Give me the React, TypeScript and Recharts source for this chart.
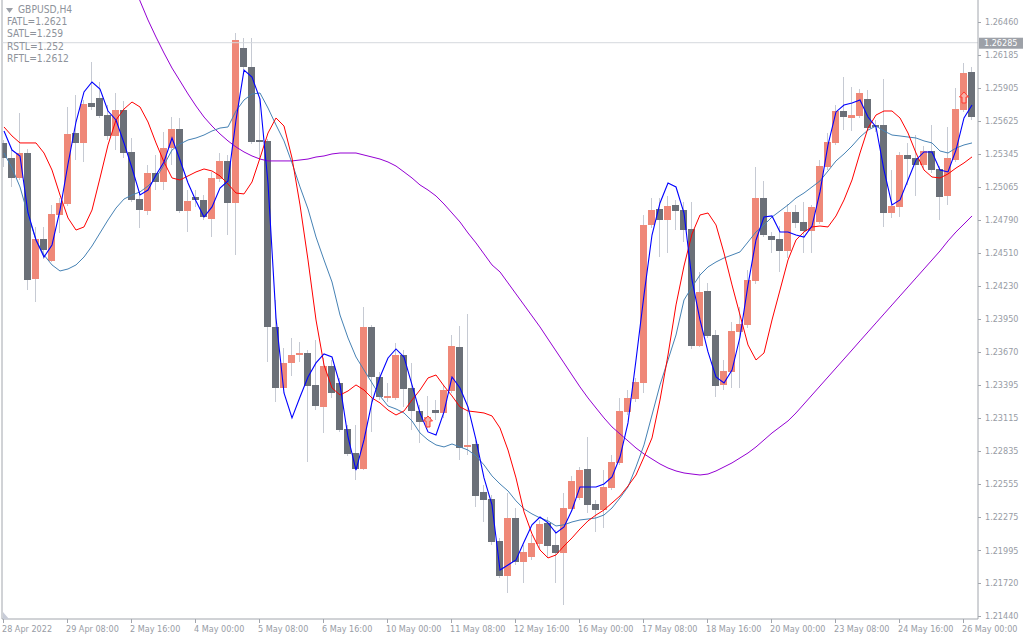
import React from 'react';
import { ComposedChart, Bar, Line, XAxis, YAxis, ReferenceLine, ReferenceDot } from 'recharts';

// GBPUSD H4 candles, 28 Apr 2022 00:00 .. 26 May 2022 04:00 (one entry per bar)
const opens = [
  1.25438, 1.25311, 1.25142, 1.25353, 1.24288, 1.24626, 1.24441, 1.24829, 1.24922, 1.25522,
  1.25438, 1.25776, 1.25818, 1.25674, 1.25497, 1.25716, 1.25362, 1.24964, 1.24863, 1.25184,
  1.25108, 1.25395, 1.25556, 1.24863, 1.24981, 1.24956, 1.24795, 1.25133, 1.25286, 1.24931,
  1.2624, 1.2608, 1.25463, 1.25455, 1.23883, 1.23367, 1.23579, 1.23646, 1.23663, 1.23393,
  1.23207, 1.23553, 1.2341, 1.23021, 1.22818, 1.22683, 1.23883, 1.2346, 1.23283, 1.23283,
  1.23646, 1.23367, 1.23173, 1.23097, 1.23181, 1.23156, 1.23342, 1.23714, 1.22869, 1.22894,
  1.22489, 1.22429, 1.22075, 1.21779, 1.22269, 1.21897, 1.21939, 1.22049, 1.22227, 1.22041,
  1.21973, 1.22345, 1.22438, 1.22683, 1.22387, 1.22336, 1.22522, 1.22734, 1.23165, 1.23274,
  1.2341, 1.24745, 1.2488, 1.24787, 1.24914, 1.24871, 1.24711, 1.23722, 1.24187, 1.23815,
  1.23393, 1.23503, 1.23841, 1.239, 1.24272, 1.24973, 1.24652, 1.24626, 1.24525, 1.24855,
  1.2477, 1.24694, 1.2477, 1.25235, 1.25438, 1.25708, 1.25649, 1.25666, 1.25809, 1.2559,
  1.2559, 1.24846, 1.24897, 1.25336, 1.25311, 1.25252, 1.2537, 1.25218, 1.2499, 1.25294,
  1.25716, 1.26038,
];
const highs = [
  1.25463, 1.25378, 1.25691, 1.25387, 1.24728, 1.24728, 1.24914, 1.24973, 1.25742, 1.25843,
  1.25801, 1.26122, 1.25953, 1.25759, 1.2586, 1.25793, 1.2548, 1.25024, 1.25252, 1.25336,
  1.25531, 1.25657, 1.25649, 1.2504, 1.2504, 1.24998, 1.25193, 1.25353, 1.25336, 1.26367,
  1.26325, 1.26325, 1.25818, 1.25471, 1.24111, 1.23705, 1.2379, 1.23756, 1.23688, 1.23773,
  1.23621, 1.23604, 1.23452, 1.23055, 1.23055, 1.24052, 1.239, 1.23503, 1.2341, 1.23748,
  1.23688, 1.23579, 1.23224, 1.233, 1.23266, 1.23393, 1.23815, 1.23891, 1.23993, 1.22928,
  1.22548, 1.22463, 1.221, 1.2248, 1.22353, 1.22041, 1.22125, 1.22252, 1.22277, 1.22167,
  1.2248, 1.22624, 1.227, 1.22953, 1.22421, 1.22674, 1.22801, 1.23283, 1.2335, 1.23452,
  1.24829, 1.24973, 1.24973, 1.2499, 1.24956, 1.24939, 1.24939, 1.24348, 1.24255, 1.23857,
  1.23604, 1.23925, 1.24052, 1.24364, 1.25235, 1.25117, 1.24686, 1.24736, 1.24922, 1.24914,
  1.24939, 1.24914, 1.25294, 1.25522, 1.25759, 1.25995, 1.25911, 1.25894, 1.25885, 1.25632,
  1.25978, 1.25209, 1.25362, 1.25438, 1.25505, 1.25412, 1.2559, 1.25243, 1.25573, 1.25902,
  1.26114, 1.2608,
];
const lows = [
  1.25235, 1.25066, 1.25125, 1.24195, 1.24094, 1.24457, 1.24432, 1.24677, 1.24905, 1.25294,
  1.25277, 1.25716, 1.25649, 1.25463, 1.25378, 1.25311, 1.24939, 1.24719, 1.24829, 1.2504,
  1.2504, 1.25252, 1.24846, 1.24686, 1.24897, 1.24787, 1.24643, 1.25108, 1.2466, 1.24491,
  1.26054, 1.25429, 1.25294, 1.23587, 1.23249, 1.2335, 1.23469, 1.23587, 1.22742, 1.23181,
  1.22987, 1.23283, 1.22996, 1.22793, 1.2259, 1.22674, 1.22996, 1.23266, 1.23249, 1.23266,
  1.23207, 1.23012, 1.22903, 1.23029, 1.23097, 1.23114, 1.23325, 1.22759, 1.22801, 1.22362,
  1.22235, 1.22041, 1.21762, 1.21635, 1.21872, 1.2172, 1.21914, 1.22015, 1.21939, 1.2172,
  1.21534, 1.2232, 1.22421, 1.22311, 1.22151, 1.22184, 1.22505, 1.22717, 1.23139, 1.23249,
  1.23325, 1.24719, 1.24474, 1.24508, 1.24702, 1.24601, 1.23697, 1.23714, 1.2379, 1.23291,
  1.2335, 1.23367, 1.23367, 1.23874, 1.24246, 1.24643, 1.24508, 1.24348, 1.24466, 1.24719,
  1.24508, 1.24508, 1.24753, 1.25209, 1.25421, 1.25547, 1.25539, 1.25649, 1.25547, 1.25531,
  1.24728, 1.24804, 1.24812, 1.25083, 1.2499, 1.25226, 1.25184, 1.24787, 1.24914, 1.25277,
  1.257, 1.25632,
];
const closes = [
  1.25311, 1.25142, 1.25353, 1.2428, 1.24626, 1.24533, 1.24838, 1.24931, 1.25514, 1.25438,
  1.25767, 1.25742, 1.25666, 1.25497, 1.25716, 1.25353, 1.24956, 1.24871, 1.25184, 1.25108,
  1.25395, 1.25556, 1.24863, 1.24948, 1.24956, 1.24812, 1.25142, 1.25286, 1.24931, 1.26308,
  1.2608, 1.25446, 1.25446, 1.23883, 1.23367, 1.23579, 1.23646, 1.23663, 1.23384, 1.23215,
  1.23553, 1.23325, 1.23012, 1.2281, 1.22683, 1.23883, 1.2346, 1.23291, 1.233, 1.23646,
  1.23359, 1.23173, 1.2308, 1.23122, 1.23156, 1.2335, 1.23722, 1.2286, 1.22886, 1.22455,
  1.22421, 1.22066, 1.21779, 1.22269, 1.21897, 1.21982, 1.22058, 1.22218, 1.22032, 1.21973,
  1.22353, 1.22582, 1.22674, 1.22379, 1.22336, 1.22531, 1.22742, 1.23173, 1.23283, 1.23418,
  1.24745, 1.24871, 1.24787, 1.24905, 1.24863, 1.24702, 1.23722, 1.24179, 1.23807, 1.23384,
  1.23511, 1.23849, 1.23908, 1.2428, 1.24973, 1.2466, 1.24618, 1.24525, 1.24855, 1.24762,
  1.24694, 1.24897, 1.25243, 1.25446, 1.25708, 1.25657, 1.25674, 1.2586, 1.25564, 1.25573,
  1.24846, 1.24905, 1.25336, 1.25302, 1.25252, 1.2537, 1.25209, 1.24981, 1.25311, 1.25725,
  1.26029, 1.25657,
];

// indicator lines
const fatl = [
  1.25539, 1.25378, 1.25328, 1.24846, 1.24618, 1.24474, 1.24576, 1.24871, 1.2526, 1.25615,
  1.25869, 1.25953, 1.25894, 1.25708, 1.25632, 1.25438, 1.25226, 1.24998, 1.2504, 1.25167,
  1.25277, 1.2548, 1.25294, 1.251, 1.24948, 1.24812, 1.24897, 1.25057, 1.25117, 1.25632,
  1.26054, 1.25995, 1.25809, 1.251, 1.23959, 1.23325, 1.23114, 1.23291, 1.2346, 1.23579,
  1.23655, 1.23629, 1.23393, 1.22953, 1.22674, 1.22928, 1.23249, 1.2346, 1.23621, 1.23697,
  1.23629, 1.23393, 1.23156, 1.22996, 1.2297, 1.23165, 1.2346, 1.23367, 1.23207, 1.22928,
  1.22607, 1.22379, 1.21829, 1.21872, 1.21914, 1.22066, 1.22211, 1.22277, 1.22227, 1.22142,
  1.22193, 1.22336, 1.22531, 1.22531, 1.22531, 1.22556, 1.22615, 1.22784, 1.23072, 1.23604,
  1.24153, 1.2466, 1.24931, 1.251, 1.25066, 1.24846, 1.2428, 1.23942, 1.23672, 1.2346,
  1.2341, 1.23519, 1.23798, 1.24238, 1.24618, 1.24812, 1.24821, 1.24686, 1.24686, 1.2466,
  1.24643, 1.24736, 1.25024, 1.25421, 1.257, 1.25759, 1.25776, 1.25801, 1.25657, 1.25573,
  1.25209, 1.24914, 1.24956, 1.25125, 1.25294, 1.25362, 1.25362, 1.25209, 1.25193, 1.25378,
  1.25649, 1.25759,
];
const satl = [
  1.25353, 1.25226, 1.25066, 1.24829, 1.24618, 1.24491, 1.24407, 1.24356, 1.24373, 1.24407,
  1.24474, 1.24567, 1.24677, 1.24787, 1.24888, 1.24964, 1.24998, 1.25024, 1.25074, 1.25142,
  1.25252, 1.25378, 1.25429, 1.25463, 1.2548, 1.25505, 1.25539, 1.25564, 1.25573, 1.25708,
  1.25801, 1.25852, 1.2586, 1.25733, 1.2559, 1.25455, 1.25269, 1.25066, 1.2488, 1.24643,
  1.24449, 1.24263, 1.23984, 1.2379, 1.23629, 1.23519, 1.2341, 1.233, 1.23215, 1.2319,
  1.23156, 1.23089, 1.22987, 1.22928, 1.22886, 1.22869, 1.22894, 1.22869, 1.22843, 1.22793,
  1.22717, 1.22624, 1.22556, 1.22497, 1.22413, 1.22345, 1.22303, 1.22269, 1.22244, 1.22201,
  1.22211, 1.22235, 1.22252, 1.2226, 1.22269, 1.22294, 1.22353, 1.22438, 1.22531, 1.227,
  1.22886, 1.23139, 1.23393, 1.23604, 1.23815, 1.24111, 1.24221, 1.24322, 1.2439, 1.24432,
  1.24466, 1.24491, 1.24517, 1.24601, 1.24686, 1.24745, 1.24812, 1.24863, 1.24914, 1.24973,
  1.25015, 1.25066, 1.25117, 1.25201, 1.25286, 1.25345, 1.25412, 1.25488, 1.25547, 1.25581,
  1.25539, 1.25505, 1.25497, 1.25488, 1.2548, 1.25455, 1.25438, 1.2537, 1.25353, 1.25395,
  1.25421, 1.25438,
];
const rstl = [
  null, null, null, null, null, null, null, null, null, null,
  1.27914, 1.27745, 1.27559, 1.27364, 1.2717, 1.26984, 1.26807, 1.26638, 1.26477, 1.26333,
  1.26198, 1.26071, 1.25962, 1.25852, 1.2575, 1.25657, 1.25581, 1.25514, 1.25455, 1.25404,
  1.25362, 1.25328, 1.25302, 1.25286, 1.25286, 1.25286, 1.25286, 1.25294, 1.25302, 1.25319,
  1.25328, 1.25345, 1.25353, 1.25353, 1.25353, 1.25336, 1.25319, 1.25302, 1.25277, 1.25243,
  1.25193, 1.25142, 1.25083, 1.2504, 1.2499, 1.24922, 1.24846, 1.2477, 1.24677, 1.24593,
  1.245, 1.24407, 1.24348, 1.24255, 1.24162, 1.24069, 1.23976, 1.23883, 1.23781, 1.2368,
  1.23579, 1.23477, 1.23376, 1.23283, 1.23198, 1.23114, 1.23038, 1.22979, 1.2292, 1.2286,
  1.2281, 1.22767, 1.22725, 1.22691, 1.22666, 1.22649, 1.2264, 1.22632, 1.2264, 1.22666,
  1.227, 1.22734, 1.22776, 1.22818, 1.22869, 1.22928, 1.22987, 1.23038, 1.23089, 1.23156,
  1.23232, 1.23308, 1.23384, 1.2346, 1.23536, 1.23612, 1.23688, 1.23765, 1.23841, 1.23917,
  1.23993, 1.24069, 1.24145, 1.24221, 1.24297, 1.24373, 1.24449, 1.24525, 1.2461, 1.24686,
  1.24753, 1.24821,
];
const rftl = [
  1.25573, 1.25497, 1.25438, 1.25438, 1.25438, 1.25353, 1.25209, 1.24998, 1.24804, 1.24702,
  1.24728, 1.24871, 1.25142, 1.25421, 1.25632, 1.25725, 1.25784, 1.25742, 1.25615, 1.25438,
  1.25277, 1.25142, 1.25125, 1.25159, 1.25193, 1.25218, 1.25201, 1.25159, 1.25091, 1.25015,
  1.25007, 1.25108, 1.25311, 1.25522, 1.25649, 1.25581, 1.25311, 1.24914, 1.24449, 1.23942,
  1.23562, 1.23367, 1.23308, 1.23342, 1.23393, 1.2335, 1.23283, 1.23241, 1.23181, 1.23139,
  1.23173, 1.23266, 1.2335, 1.23452, 1.23477, 1.23384, 1.233, 1.23207, 1.23173, 1.23165,
  1.23156, 1.23131, 1.23029, 1.22843, 1.22607, 1.2232, 1.22134, 1.21998, 1.21931, 1.21956,
  1.22032, 1.221, 1.22176, 1.22244, 1.22294, 1.22336, 1.22396, 1.22455, 1.22539, 1.22632,
  1.22784, 1.22945, 1.23266, 1.23646, 1.24069, 1.24398, 1.24669, 1.24829, 1.24846, 1.24745,
  1.24508, 1.24238, 1.23984, 1.23731, 1.23604, 1.23663, 1.23942, 1.24195, 1.24449, 1.24618,
  1.24686, 1.24728, 1.24736, 1.24728, 1.24821, 1.24956, 1.25125, 1.25353, 1.25564, 1.25674,
  1.25708, 1.25708, 1.25649, 1.25522, 1.25353, 1.25209, 1.2515, 1.25142, 1.25176, 1.25226,
  1.25269, 1.2532,
];

const xTickIndex = [0, 8, 16, 24, 32, 40, 48, 56, 64, 72, 80, 88, 96, 104, 112, 120];
const xTickLabels = [
  '28 Apr 2022', '29 Apr 08:00', '2 May 16:00', '4 May 00:00', '5 May 08:00', '6 May 16:00',
  '10 May 00:00', '11 May 08:00', '12 May 16:00', '16 May 00:00', '17 May 08:00', '18 May 16:00',
  '20 May 00:00', '23 May 08:00', '24 May 16:00', '26 May 00:00',
];
const priceTicks = [
  1.2646, 1.26185, 1.25905, 1.25625, 1.25345, 1.25065, 1.2479, 1.2451, 1.2423, 1.2395,
  1.2367, 1.23395, 1.23115, 1.22835, 1.22555, 1.22275, 1.21995, 1.2172, 1.2144,
];
const lastPrice = 1.26285;
const legendLines = ['FATL=1.2621', 'SATL=1.259', 'RSTL=1.252', 'RFTL=1.2612'];
const signals = [
  { i: 53, price: 1.2308 },
  { i: 120, price: 1.25818 },
];

const rows = opens.map((o, i) => ({
  i,
  open: o,
  high: highs[i],
  low: lows[i],
  close: closes[i],
  range: [lows[i], highs[i]],
  fatl: fatl[i],
  satl: satl[i],
  rstl: rstl[i],
  rftl: rftl[i],
}));

const FONT = '"DejaVu Sans Condensed", "DejaVu Sans", sans-serif';
const AXIS = '#a2a6ad';
const TXT = '#979ca5';
const BULL = '#ef8878';
const BEAR = '#6b7078';
const WICK = '#c6cad3';

const Candle = (props: any) => {
  const { x, y, width, height, payload } = props;
  if (x == null || !payload) return null;
  const { open, close, high, low } = payload;
  const top = Math.min(y, y + height);
  const span = Math.abs(height);
  const py = (v: number) => (high === low ? top : top + ((high - v) / (high - low)) * span);
  const cx = x + width / 2;
  const left = Math.floor(cx - 3.5 + 0.01);
  const up = close >= open;
  const bTop = py(Math.max(open, close));
  const bBot = py(Math.min(open, close));
  return (
    <g shapeRendering="crispEdges">
      <rect x={left + 3} y={top} width={1} height={Math.max(1, span)} fill={WICK} />
      <rect x={left} y={bTop} width={7} height={Math.max(1, bBot - bTop)} fill={up ? BULL : BEAR} />
    </g>
  );
};

const DateTick = (props: any) => {
  const { x, y, payload } = props;
  const label = xTickLabels[xTickIndex.indexOf(payload.value)];
  return (
    <g>
      <rect x={Math.floor(x) - 1} y={y} width={1} height={4} fill={AXIS} />
      <text x={x - 2} y={y + 13} fontSize={9} fill={TXT} fontFamily={FONT} textAnchor="start">
        {label}
      </text>
    </g>
  );
};

const PriceTick = (props: any) => {
  const { x, y, payload } = props;
  return (
    <g>
      <rect x={x} y={Math.round(y)} width={3} height={1} fill={AXIS} />
      <text x={x + 7} y={y} dy="0.35em" fontSize={9} fill={TXT} fontFamily={FONT} textAnchor="start">
        {payload.value.toFixed(5)}
      </text>
    </g>
  );
};

const PriceTag = (props: any) => {
  const vb = props.viewBox || {};
  const x = (vb.x || 0) + (vb.width || 0);
  const y = vb.y || 0;
  return (
    <g>
      <rect x={x + 1} y={y - 5} width={44} height={11} fill="#9da1a8" />
      <text x={x + 6} y={y} dy="0.35em" fontSize={9} fill="#ffffff" fontFamily={FONT}>
        {lastPrice.toFixed(5)}
      </text>
    </g>
  );
};

const Arrow = (props: any) => {
  const { cx, cy } = props;
  if (cx == null) return null;
  const d = `M${cx} ${cy - 6} L${cx + 4.5} ${cy - 1} L${cx + 2} ${cy - 1} L${cx + 2} ${cy + 5} L${cx - 2} ${cy + 5} L${cx - 2} ${cy - 1} L${cx - 4.5} ${cy - 1} Z`;
  return <path d={d} fill="#f6b3aa" stroke="#ff3b30" strokeWidth={1} />;
};

export default function App() {
  return (
    <div style={{ position: 'absolute', left: 0, top: 0, width: 1024, height: 640, background: '#ffffff' }}>
      <ComposedChart width={1024} height={640} data={rows} margin={{ top: 0, right: 0, bottom: 0, left: 2 }}>
        <XAxis
          type="number"
          dataKey="i"
          domain={[-0.25, 121.75]}
          allowDataOverflow
          ticks={xTickIndex}
          interval={0}
          tick={<DateTick />}
          tickLine={false}
          tickSize={0}
          tickMargin={0}
          height={21}
          axisLine={{ stroke: AXIS }}
        />
        <YAxis
          orientation="right"
          domain={[1.21415, 1.26646]}
          allowDataOverflow
          ticks={priceTicks}
          interval={0}
          tick={<PriceTick />}
          tickLine={false}
          tickSize={0}
          tickMargin={0}
          width={46}
          axisLine={{ stroke: AXIS }}
        />
        <ReferenceLine x={-0.25} stroke={AXIS} />
        <ReferenceLine y={lastPrice} stroke="#d5d8dd" label={<PriceTag />} />
        <Bar dataKey="range" barSize={7} isAnimationActive={false} shape={(p: any) => <Candle {...p} />} />
        <Line dataKey="rstl" type="linear" stroke="#9400d3" strokeWidth={1} dot={false} isAnimationActive={false} />
        <Line dataKey="satl" type="linear" stroke="#4682b4" strokeWidth={1} dot={false} isAnimationActive={false} />
        <Line dataKey="rftl" type="linear" stroke="#ff0000" strokeWidth={1} dot={false} isAnimationActive={false} />
        <Line dataKey="fatl" type="linear" stroke="#0000ff" strokeWidth={1.1} dot={false} isAnimationActive={false} />
        {signals.map((s) => (
          <ReferenceDot key={s.i} x={s.i} y={s.price} r={0} shape={<Arrow />} ifOverflow="visible" />
        ))}
      </ComposedChart>
      <svg width={8} height={8} style={{ position: 'absolute', left: 2, top: 611 }}>
        <path d="M1 1 L1 8 L7 8 Z" fill="#c8ccd8" />
      </svg>
      <div style={{ position: 'absolute', left: 6, top: 4, fontFamily: FONT, fontSize: 10.2, color: '#8e939b', lineHeight: '12.2px' }}>
        <div style={{ display: 'flex', alignItems: 'center' }}>
          <svg width={7} height={5} style={{ marginRight: 5 }}>
            <path d="M0 0 L7 0 L3.5 5 Z" fill="#9ca0a8" />
          </svg>
          GBPUSD,H4
        </div>
        {legendLines.map((t) => (
          <div key={t} style={{ paddingLeft: 1 }}>{t}</div>
        ))}
      </div>
    </div>
  );
}
